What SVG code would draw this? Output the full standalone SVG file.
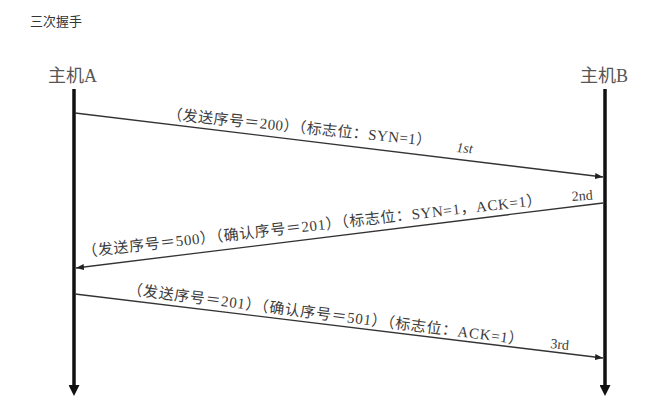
<svg xmlns="http://www.w3.org/2000/svg" width="653" height="412" viewBox="0 0 653 412">
<style>
.title{font-family:"Noto Sans CJK SC","Noto Sans",sans-serif;font-size:13px;fill:#333}
.host{font-family:"Liberation Serif","Noto Sans CJK SC",serif;font-size:18px;fill:#555}
.life{stroke:#111;stroke-width:3.5;fill:none}
.msg{stroke:#333;stroke-width:1.3;fill:none}
.lbl{font-family:"Liberation Serif","Noto Sans CJK SC",serif;font-size:15px;fill:#3c3c3c}
.tag{font-family:"Liberation Serif",serif;font-size:14px;fill:#3c3c3c}
</style>
<defs>
<marker id="lifehead" markerUnits="userSpaceOnUse" markerWidth="11" markerHeight="11" viewBox="0 0 11 11" refX="0" refY="5.5" orient="auto">
<path d="M0,0 L11,5.5 L0,11 z" fill="#111"/>
</marker>
<marker id="msghead" markerUnits="userSpaceOnUse" markerWidth="8" markerHeight="6" viewBox="0 0 8 6" refX="8" refY="3" orient="auto">
<path d="M0,0 L8,3 L0,6 z" fill="#222"/>
</marker>
</defs>
<rect width="653" height="412" fill="#fff"/>
<text class="title" x="30" y="26">三次握手</text>
<g id="hostA">
<text class="host" x="48" y="82">主机A</text>
<line class="life" x1="74" y1="89" x2="74" y2="385" marker-end="url(#lifehead)"/>
</g>
<g id="hostB">
<text class="host" x="580" y="82">主机B</text>
<line class="life" x1="605" y1="89" x2="605" y2="385" marker-end="url(#lifehead)"/>
</g>
<g id="connectors">
<line class="msg" x1="75" y1="113" x2="603" y2="177" marker-end="url(#msghead)"/>
<text class="lbl" transform="translate(167,119) rotate(5.8)" textLength="265">（发送序号＝200）（标志位：SYN=1）</text>
<text class="tag" transform="translate(456,152) rotate(5)" font-style="italic">1st</text>
<line class="msg" x1="603" y1="203" x2="76" y2="268" marker-end="url(#msghead)"/>
<text class="lbl" transform="translate(83,257) rotate(-6.5)" textLength="462">（发送序号＝500）（确认序号＝201）（标志位：SYN=1，ACK=1）</text>
<text class="tag" transform="translate(572,201) rotate(-4)">2nd</text>
<line class="msg" x1="75" y1="294" x2="603" y2="358" marker-end="url(#msghead)"/>
<text class="lbl" transform="translate(127,294) rotate(7.3)" textLength="399">（发送序号＝201）（确认序号＝501）（标志位：ACK=1）</text>
<text class="tag" transform="translate(550,348) rotate(6)">3rd</text>
</g>
</svg>
